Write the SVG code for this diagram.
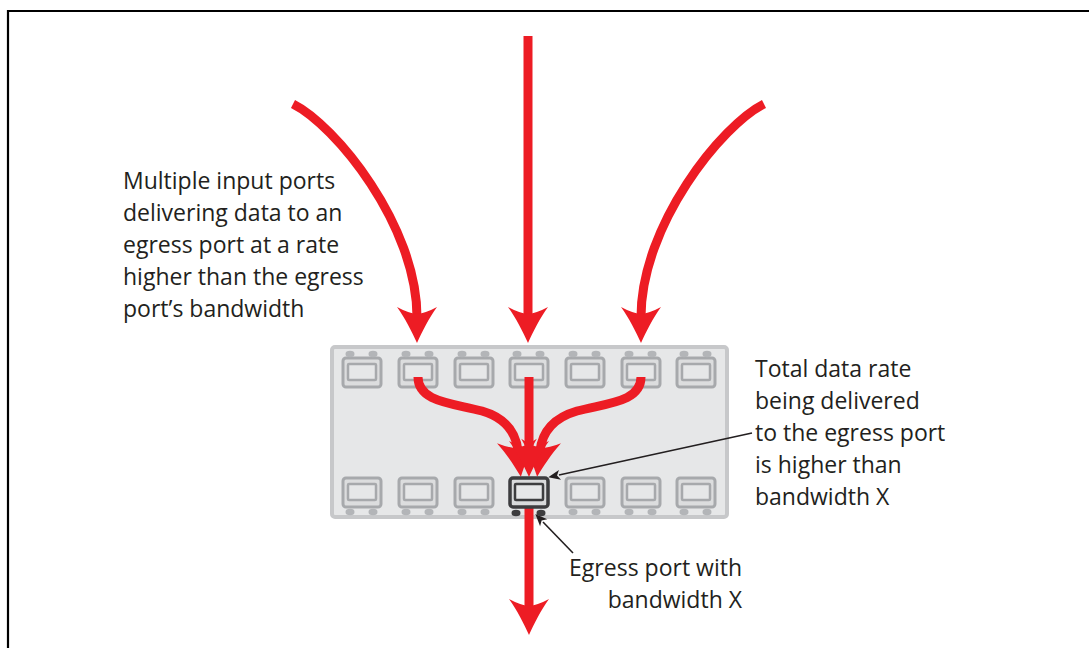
<svg xmlns="http://www.w3.org/2000/svg" width="1089" height="648" viewBox="0 0 1089 648">
  <style>
    .lbl { font-family: "Open Sans", "Noto Sans", sans-serif; font-size: 23px; fill: #231f20; }
    .flow { fill: none; stroke: #ed1c24; stroke-width: 9; }
    .callout { fill: none; stroke: #231f20; stroke-width: 1.6; }
    .port { fill: #dcddde; stroke: #a7a9ac; stroke-width: 3; }
    .port-in { fill: #e6e7e8; stroke: #a7a9ac; stroke-width: 2.5; }
    .led { fill: #b3b5b8; }
    .egress { fill: #d9dadb; stroke: #3d3d3f; stroke-width: 3.5; }
    .egress-in { fill: #e6e7e8; stroke: #3d3d3f; stroke-width: 2.5; }
    .led-dark { fill: #3d3d3f; }
  </style>
  <defs>
    <marker id="head" markerUnits="userSpaceOnUse" viewBox="-12 -22 40 44" refX="0" refY="0" markerWidth="40" markerHeight="44" orient="auto" overflow="visible">
      <path d="M26,0 C15,-5 1,-12 -10,-20 Q-4,-9 -3,0 Q-4,9 -10,20 C1,12 15,5 26,0 Z" fill="#ed1c24"/>
    </marker>
    <marker id="tick" markerUnits="userSpaceOnUse" viewBox="-2 -6 14 12" refX="0" refY="0" markerWidth="14" markerHeight="12" orient="auto" overflow="visible">
      <path d="M11,0 L-1,-5 L2,0 L-1,5 Z" fill="#231f20"/>
    </marker>
    <g id="p">
      <rect class="port" x="-19" y="0" width="38" height="29" rx="3"/>
      <rect class="port-in" x="-14" y="6" width="28" height="16" rx="1"/>
    </g>
  </defs>

  <!-- frame -->
  <path d="M8,650 V11 H1092" fill="none" stroke="#000" stroke-width="2.2"/>

  <!-- switch chassis -->
  <g id="switch">
    <rect x="332" y="347" width="395" height="170" rx="3" fill="#e6e7e8" stroke="#c7c8ca" stroke-width="4"/>
    <g id="top-ports">
      <use href="#p" x="362" y="358"/><use href="#p" x="418" y="358"/><use href="#p" x="474" y="358"/>
      <use href="#p" x="529" y="358"/><use href="#p" x="585" y="358"/><use href="#p" x="641" y="358"/>
      <use href="#p" x="696" y="358"/>
      <g class="led">
        <ellipse cx="350" cy="354" rx="4.5" ry="3.3"/><ellipse cx="373" cy="354" rx="4.5" ry="3.3"/>
        <ellipse cx="406" cy="354" rx="4.5" ry="3.3"/><ellipse cx="429" cy="354" rx="4.5" ry="3.3"/>
        <ellipse cx="462" cy="354" rx="4.5" ry="3.3"/><ellipse cx="485" cy="354" rx="4.5" ry="3.3"/>
        <ellipse cx="517" cy="354" rx="4.5" ry="3.3"/><ellipse cx="540" cy="354" rx="4.5" ry="3.3"/>
        <ellipse cx="573" cy="354" rx="4.5" ry="3.3"/><ellipse cx="596" cy="354" rx="4.5" ry="3.3"/>
        <ellipse cx="629" cy="354" rx="4.5" ry="3.3"/><ellipse cx="652" cy="354" rx="4.5" ry="3.3"/>
        <ellipse cx="684" cy="354" rx="4.5" ry="3.3"/><ellipse cx="707" cy="354" rx="4.5" ry="3.3"/>
      </g>
    </g>
    <g id="bottom-ports">
      <use href="#p" x="362" y="478"/><use href="#p" x="418" y="478"/><use href="#p" x="474" y="478"/>
      <use href="#p" x="585" y="478"/><use href="#p" x="641" y="478"/><use href="#p" x="696" y="478"/>
      <g class="led">
        <ellipse cx="350" cy="512" rx="4.5" ry="3.3"/><ellipse cx="373" cy="512" rx="4.5" ry="3.3"/>
        <ellipse cx="406" cy="512" rx="4.5" ry="3.3"/><ellipse cx="429" cy="512" rx="4.5" ry="3.3"/>
        <ellipse cx="462" cy="512" rx="4.5" ry="3.3"/><ellipse cx="485" cy="512" rx="4.5" ry="3.3"/>
        <ellipse cx="573" cy="512" rx="4.5" ry="3.3"/><ellipse cx="596" cy="512" rx="4.5" ry="3.3"/>
        <ellipse cx="629" cy="512" rx="4.5" ry="3.3"/><ellipse cx="652" cy="512" rx="4.5" ry="3.3"/>
        <ellipse cx="684" cy="512" rx="4.5" ry="3.3"/><ellipse cx="707" cy="512" rx="4.5" ry="3.3"/>
      </g>
    </g>
  </g>

  <!-- traffic flows -->
  <g id="connectors">
    <path class="flow" d="M528,36 V317" marker-end="url(#head)"/>
    <path class="flow" d="M293,104 C335,125 417,225 417,317" marker-end="url(#head)"/>
    <path class="flow" d="M764,104 C722,125 641,225 641,317" marker-end="url(#head)"/>
    <path class="flow" d="M418,377 C418,402 452,403 482,411 C506,418 516,433 518,451" marker-end="url(#head)"/>
    <path class="flow" d="M641,377 C641,402 607,403 577,411 C553,418 542,433 540,451" marker-end="url(#head)"/>
    <path class="flow" d="M529,377 V451" marker-end="url(#head)"/>
    <path class="flow" d="M529,505 V609" marker-end="url(#head)"/>
    <path class="callout" d="M752,433 L559,475" marker-end="url(#tick)"/>
    <path class="callout" d="M573,553 L543,522" marker-end="url(#tick)"/>
  </g>

  <!-- egress port -->
  <g id="egress-port">
    <rect class="egress" x="510" y="478" width="38" height="29" rx="3"/>
    <rect class="egress-in" x="515" y="484" width="28" height="16" rx="1"/>
    <ellipse class="led-dark" cx="516" cy="513" rx="4.5" ry="3.3"/>
    <ellipse class="led-dark" cx="541" cy="513" rx="4.5" ry="3.3"/>
  </g>

  <g id="label-inputs" class="lbl">
    <text x="123" y="189">Multiple input ports</text>
    <text x="123" y="221">delivering data to an</text>
    <text x="123" y="253">egress port at a rate</text>
    <text x="123" y="285">higher than the egress</text>
    <text x="123" y="317">port’s bandwidth</text>
  </g>
  <g id="label-total" class="lbl">
    <text x="755" y="377">Total data rate</text>
    <text x="755" y="409">being delivered</text>
    <text x="755" y="441">to the egress port</text>
    <text x="755" y="473">is higher than</text>
    <text x="755" y="505">bandwidth X</text>
  </g>
  <g id="label-egress" class="lbl" text-anchor="end">
    <text x="742" y="576">Egress port with</text>
    <text x="742" y="608">bandwidth X</text>
  </g>
</svg>
